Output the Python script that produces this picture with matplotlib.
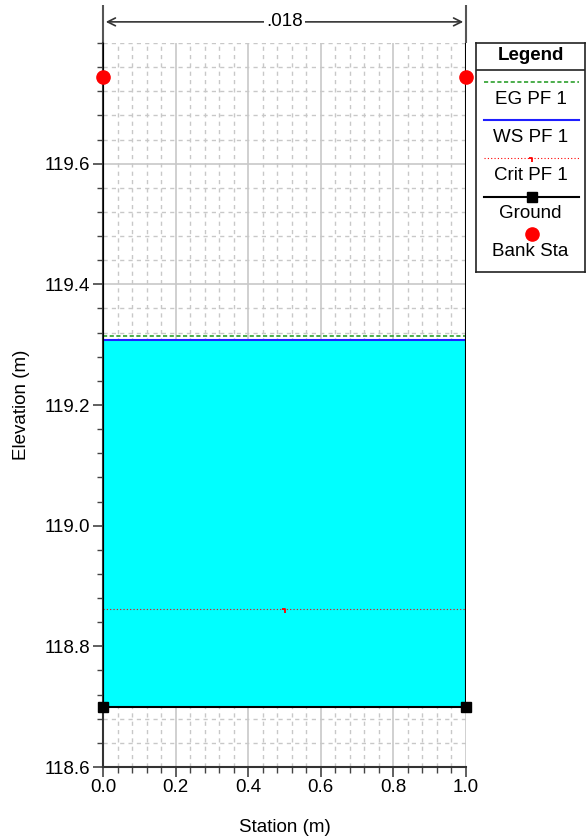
import matplotlib.pyplot as plt
from matplotlib.path import Path
import numpy as np

plt.rcParams['font.family'] = ['Liberation Sans', 'DejaVu Sans']

# cross section data
ground_sta = [0.0, 0.0, 1.0, 1.0]
ground_elev = [119.8, 118.7, 118.7, 119.8]
bank_sta = [0.0, 1.0]
bank_elev = [119.743, 119.743]
ws_elev = 119.308
eg_elev = 119.315
crit_elev = 118.862
crit_sta = [0.0, 0.5, 1.0]
n_sta = [0.0, 1.0]
n_label = '.018'

xticks = [0.0, 0.2, 0.4, 0.6, 0.8, 1.0]
yticks = [118.6, 118.8, 119.0, 119.2, 119.4, 119.6]

# little notch used by HEC-RAS for critical depth
crit_mark = Path([(-1, 0), (0, 0), (0, -1.3)], [Path.MOVETO, Path.LINETO, Path.LINETO])

fig = plt.figure(figsize=(5.87, 8.36), dpi=100)
ax = fig.add_axes([103/587, 69/836, 363/587, 724/836])

ax.set_xlim(0, 1)
ax.set_ylim(118.6, 119.8)
ax.set_xticks(xticks)
ax.set_yticks(yticks)
ax.set_xticks(np.arange(0, 1.0001, 0.04), minor=True)
ax.set_yticks(np.arange(118.6, 119.8001, 0.04), minor=True)
ax.set_xticklabels([f'{v:.1f}' for v in xticks])
ax.set_yticklabels([f'{v:.1f}' for v in yticks])
ax.grid(which='major', color='#c8c8c8', lw=1.2, ls='-')
ax.grid(which='minor', color='#c8c8c8', lw=1.0, ls=(0, (3, 3)))
ax.set_axisbelow(True)
ax.tick_params(which='major', length=7, width=1.2, color='#444', labelsize=13.5, pad=2)
ax.tick_params(which='minor', length=4, width=1.0, color='#444')
for s in ['top', 'right']:
    ax.spines[s].set_visible(False)
for s in ['left', 'bottom']:
    ax.spines[s].set_color('#333')
    ax.spines[s].set_linewidth(1.5)

ax.set_xlabel('Station (m)', fontsize=13.5, labelpad=16)
ax.set_ylabel('Elevation (m)', fontsize=13.5, labelpad=11)

# water
ax.fill_between([ground_sta[1], ground_sta[2]], ground_elev[1], ws_elev, color='#00ffff', zorder=2, lw=0)
ax.plot([0, 1], [eg_elev, eg_elev], color='#2ca02c', ls=(0, (2.5, 1.5)), lw=1.2, zorder=3)
ax.plot([0, 1], [ws_elev, ws_elev], color='#1f1fff', lw=1.5, zorder=4)
ax.plot(crit_sta, [crit_elev]*3, color='red', ls=(0, (1, 2)), lw=0.8, zorder=4,
        marker=crit_mark, markevery=[1], markersize=6, mec='red', mfc='none', mew=1.3)
ax.plot(ground_sta, ground_elev, color='black', lw=1.5, zorder=5)
ax.plot(ground_sta[1:3], ground_elev[1:3], ls='none', marker='s', ms=6.5, color='black', zorder=6, clip_on=False)
ax.plot(bank_sta, bank_elev, ls='none', marker='o', ms=9.5, color='red', zorder=7, clip_on=False)

# n value bracket above the plot
ax.vlines(n_sta, 119.8, 119.863, color='#555', lw=1.5, clip_on=False)
ax.annotate('', xy=(n_sta[0], 119.835), xytext=(n_sta[1], 119.835),
            arrowprops=dict(arrowstyle='<->', color='#333', lw=1.2, mutation_scale=14),
            annotation_clip=False)
ax.text(0.5, 119.835, n_label, ha='center', va='center', fontsize=13.5,
        bbox=dict(fc='white', ec='none', pad=1.5), clip_on=False)

# legend drawn by hand (samples above the labels)
lg = fig.add_axes([476/587, (836-272)/836, 109/587, 229/836])
lg.set_xlim(0, 109)
lg.set_ylim(272, 43)
lg.set_xticks([])
lg.set_yticks([])
for s in lg.spines.values():
    s.set_color('#222')
    s.set_linewidth(1.2)
lg.text(54.5, 56, 'Legend', ha='center', va='center', fontsize=13.5, fontweight='bold')
lg.axhline(70, color='#222', lw=1.2)
x0, x1 = 8, 103
lg.plot([x0, x1], [82, 82], color='#2ca02c', ls=(0, (2.5, 1.5)), lw=1.2)
lg.text(54.5, 100, 'EG PF 1', ha='center', va='center', fontsize=13.5)
lg.plot([x0, x1], [120, 120], color='#1f1fff', lw=1.5)
lg.text(54.5, 137, 'WS PF 1', ha='center', va='center', fontsize=13.5)
lg.plot([x0, (x0+x1)/2, x1], [158, 158, 158], color='red', ls=(0, (1, 2)), lw=0.8,
        marker=crit_mark, markevery=[1], markersize=6, mec='red', mfc='none', mew=1.3)
lg.text(54.5, 175, 'Crit PF 1', ha='center', va='center', fontsize=13.5)
lg.plot([x0, x1], [197, 197], color='black', lw=1.5)
lg.plot([(x0+x1)/2], [197], marker='s', ms=6.5, color='black')
lg.text(54.5, 213, 'Ground', ha='center', va='center', fontsize=13.5)
lg.plot([(x0+x1)/2], [234], marker='o', ms=9.5, color='red')
lg.text(54.5, 252, 'Bank Sta', ha='center', va='center', fontsize=13.5)

fig.savefig('out.png', dpi=100)
